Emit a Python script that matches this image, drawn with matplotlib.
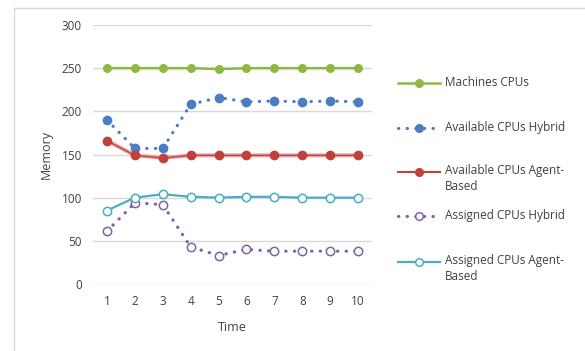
import matplotlib.pyplot as plt
from matplotlib.lines import Line2D

time = [1, 2, 3, 4, 5, 6, 7, 8, 9, 10]
machines_cpus = [250, 250, 250, 250, 249, 250, 250, 250, 250, 250]
avail_hybrid = [190, 157, 157, 208, 216, 211, 212, 211, 212, 211]
avail_agent = [166, 149, 146, 149, 149, 149, 149, 149, 149, 149]
assigned_hybrid = [61, 94, 92, 43, 33, 40, 38, 38, 38, 38]
assigned_agent = [85, 100, 104, 101, 100, 101, 101, 100, 100, 100]

labels = ["Machines CPUs", "Available CPUs Hybrid", "Available CPUs Agent-\nBased",
          "Assigned CPUs Hybrid", "Assigned CPUs Agent-\nBased"]

green = "#8db943"
blue = "#4a7dc4"
red = "#c0403c"
purple = "#8064a2"
cyan = "#4bacc6"
text_col = "#404040"
dots = (0, (0.1, 2.6))

plt.rcParams['font.family'] = ['Open Sans', 'DejaVu Sans']

fig = plt.figure(figsize=(5.85, 3.51), dpi=100)
ax = fig.add_axes([93 / 585, 1 - 284 / 351, 279 / 585, 259 / 351])

styles = [
    dict(color=green, lw=1.8, marker='o', ms=5.5),
    dict(color=blue, lw=2.3, ls=dots, dash_capstyle='round', marker='o', ms=6),
    dict(color=red, lw=0.9, marker='o', ms=6),
    dict(color=purple, lw=2.3, ls=dots, dash_capstyle='round', marker='o', ms=6,
         mfc='white', mew=1.1),
    dict(color=cyan, lw=1.6, marker='o', ms=6, mfc='white', mew=1.1),
]
series = [machines_cpus, avail_hybrid, avail_agent, assigned_hybrid, assigned_agent]

ax.plot(time, avail_agent, color="#e8a09e", lw=2.8, zorder=2)
for vals, st in zip(series, styles):
    ax.plot(time, vals, zorder=3, **st)

ax.set_xlim(0.5, 10.5)
ax.set_ylim(0, 300)
ax.set_xticks(time)
ax.set_yticks(range(0, 301, 50))
ax.grid(axis='y', color='#d9d9d9', lw=1)
ax.set_axisbelow(True)
for s in ax.spines.values():
    s.set_visible(False)
ax.tick_params(length=0, labelsize=8.5, labelcolor=text_col, pad=8)
ax.set_xlabel("Time", fontsize=9, color=text_col, labelpad=9)
ax.set_ylabel("Memory", fontsize=9, color=text_col, labelpad=6)

# legend drawn by hand: marker sits on the first text line
row_y = [83, 128, 172, 216, 262]
x0, x1, xt = 398 / 585, 440 / 585, 445 / 585
for lab, y, st in zip(labels, row_y, styles):
    yf = 1 - y / 351
    line_st = {k: v for k, v in st.items() if k not in ('marker', 'ms', 'mfc', 'mew')}
    if st['color'] == red:
        line_st['lw'] = 1.5
    fig.add_artist(Line2D([x0, x1], [yf, yf], **line_st))
    fig.add_artist(Line2D([(x0 + x1) / 2], [yf], ls='none', marker='o', ms=5.5,
                          color=st['color'], mfc=st.get('mfc', st['color']),
                          mew=st.get('mew', 1)))
    fig.text(xt, yf, lab, fontsize=8.5, color=text_col, va='top' if '\n' in lab else 'center',
             linespacing=1.25, transform=fig.transFigure)
    if '\n' in lab:
        fig.texts[-1].set_y(yf + 8 / 351)

# outer chart frame (left and top edges only)
fig.add_artist(Line2D([14 / 585, 14 / 585], [0, 1 - 8 / 351], color='#d9d9d9', lw=1))
fig.add_artist(Line2D([14 / 585, 584 / 585], [1 - 8 / 351, 1 - 8 / 351], color='#d9d9d9', lw=1))

fig.savefig("out.png", dpi=100)
